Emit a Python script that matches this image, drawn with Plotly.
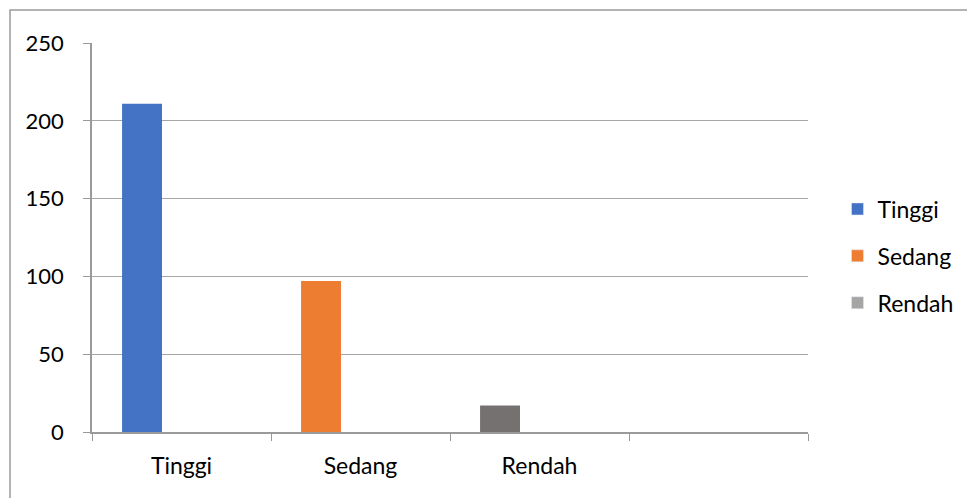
import plotly.graph_objects as go

categories = ["Tinggi", "Sedang", "Rendah", " "]
series_names = ["Tinggi", "Sedang", "Rendah"]
values = [211, 97, 17]
bar_colors = ["#4472C4", "#ED7D31", "#767171"]
legend_colors = ["#4472C4", "#ED7D31", "#A5A5A5"]

FONT = "Lato"
fig = go.Figure()
for name, v, c, lc in zip(series_names, values, bar_colors, legend_colors):
    fig.add_trace(go.Bar(x=[name], y=[v], marker=dict(color=c, line=dict(width=0)),
                         width=0.223, offset=-0.332, showlegend=False, hoverinfo="x+y"))
    fig.add_trace(go.Bar(x=[None], y=[None], name=name, marker=dict(color=lc),
                         legendgroup=name, showlegend=True))

fig.update_layout(
    width=975, height=498,
    margin=dict(l=84, r=175, t=35, b=74),
    paper_bgcolor="white", plot_bgcolor="white",
    font=dict(family=FONT, size=23, color="#000000"),
    barmode="overlay",
    legend=dict(x=1.0412, xanchor="left", xref="paper", y=0.4524, yanchor="middle",
                font=dict(family=FONT, size=23), tracegroupgap=14,
                itemwidth=30, bgcolor="rgba(0,0,0,0)"),
    xaxis=dict(type="category", categoryorder="array", categoryarray=categories,
               tickmode="array", tickvals=categories, ticktext=categories,
               range=[-0.5, 3.5], tickson="boundaries", ticks="outside", ticklen=7,
               tickcolor="#9a9a9a", showline=True, linecolor="#9a9a9a", linewidth=1.5,
               showgrid=False, tickfont=dict(family=FONT, size=23),
               ticklabelstandoff=13, fixedrange=True),
    yaxis=dict(range=[0, 250], tickvals=[0, 50, 100, 150, 200, 250], ticks="outside",
               ticklen=7, tickcolor="#9a9a9a", showline=True, linecolor="#9a9a9a",
               linewidth=1.5, showgrid=True, gridcolor="#a6a6a6", gridwidth=1,
               zeroline=False, tickfont=dict(family=FONT, size=22),
               ticklabelstandoff=15, fixedrange=True),
    shapes=[dict(type="rect", xref="paper", yref="paper", x0=-0.1145, x1=1.3,
                 y0=-0.5, y1=1.0848, line=dict(color="#9a9a9a", width=1.5),
                 fillcolor="rgba(0,0,0,0)", layer="below")],
)
fig.write_html("out.html")
